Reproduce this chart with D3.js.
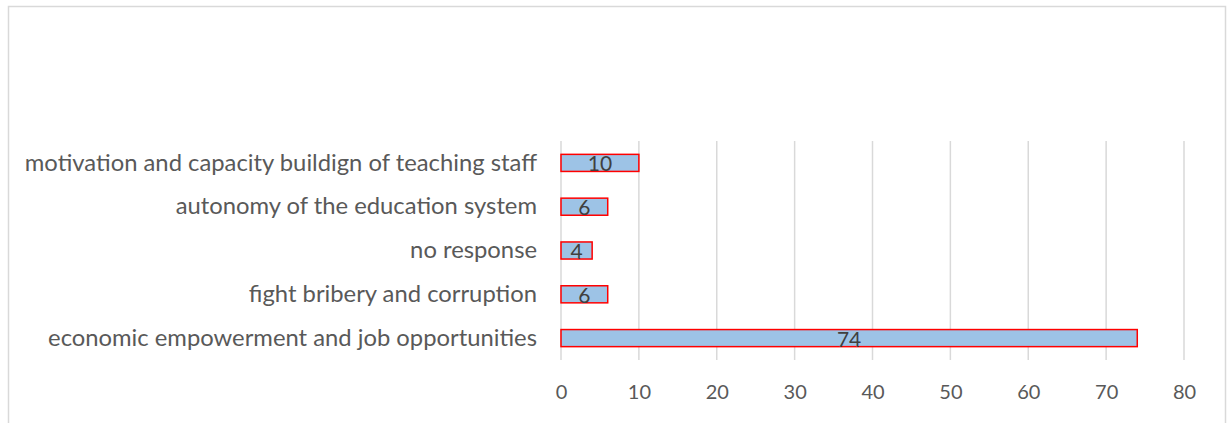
<!DOCTYPE html>
<html>
<head>
<meta charset="utf-8">
<script src="https://cdn.jsdelivr.net/npm/d3@7"></script>
<style>
  body { margin: 0; background: #fff; }
  svg text { font-family: Lato, "Open Sans", sans-serif; }
</style>
</head>
<body>
<div id="chart"></div>
<script>
// datos
var categorias = [
  "motivation and capacity buildign of teaching staff",
  "autonomy of the education system",
  "no response",
  "fight bribery and corruption",
  "economic empowerment and job opportunities"
];
var valores = [10, 6, 4, 6, 74];
var ticksX = [0, 10, 20, 30, 40, 50, 60, 70, 80];

var chart_width = 1227;
var chart_height = 423;

var margin = { top: 141, bottom: 63, left: 561, right: 43 };

var svg = d3.select("#chart")
    .append("svg")
    .attr("width", chart_width)
    .attr("height", chart_height);

// marco
svg.append("rect")
  .attr("x", 8.5)
  .attr("y", 6.5)
  .attr("width", 1217)
  .attr("height", 440)
  .style("fill", "white")
  .style("stroke", "#d9d9d9")
  .style("stroke-width", 1.5);

var escalaX = d3.scaleLinear()
    .domain([0, 80])
    .range([margin.left, chart_width - margin.right]);

var escalaY = d3.scaleBand()
    .domain(categorias)
    .range([margin.top, chart_height - margin.bottom])
    .paddingInner(0.61)
    .paddingOuter(0.305);

// lineas de grilla
svg.append("g")
  .selectAll("line")
  .data(ticksX)
  .join("line")
  .attr("x1", d => escalaX(d))
  .attr("x2", d => escalaX(d))
  .attr("y1", margin.top)
  .attr("y2", chart_height - margin.bottom)
  .style("stroke", "#d9d9d9")
  .style("stroke-width", 1.5);

// eje X
var ejeX = d3.axisBottom(escalaX).tickValues(ticksX).tickSize(0).tickPadding(25);
var gx = svg.append("g")
  .attr("transform", "translate(0," + (chart_height - margin.bottom) + ")")
  .call(ejeX);
gx.select(".domain").remove();
gx.selectAll("text")
  .style("font-size", "20px")
  .style("fill", "#595959");

// eje Y
var ejeY = d3.axisLeft(escalaY).tickSize(0).tickPadding(24);
var gy = svg.append("g")
  .attr("transform", "translate(" + margin.left + ",0)")
  .call(ejeY);
gy.select(".domain").remove();
gy.selectAll("text")
  .style("font-size", "23.8px")
  .style("fill", "#595959");

var datos = categorias.map((c, i) => ({ cat: c, val: valores[i] }));

// barras
svg.append("g")
  .selectAll("rect")
  .data(datos)
  .join("rect")
  .attr("x", escalaX(0))
  .attr("y", d => escalaY(d.cat))
  .attr("width", d => escalaX(d.val) - escalaX(0))
  .attr("height", escalaY.bandwidth())
  .style("fill", "#9dc3e6")
  .style("stroke", "#ff0000")
  .style("stroke-width", 1.5);

// etiquetas de valores
svg.append("g")
  .selectAll("text")
  .data(datos)
  .join("text")
  .attr("x", d => (escalaX(d.val) + escalaX(0)) / 2)
  .attr("y", d => escalaY(d.cat) + escalaY.bandwidth() / 2)
  .attr("dy", "0.4em")
  .attr("text-anchor", "middle")
  .style("font-size", "21px")
  .style("fill", "#404040")
  .text(d => d.val);
</script>
</body>
</html>
